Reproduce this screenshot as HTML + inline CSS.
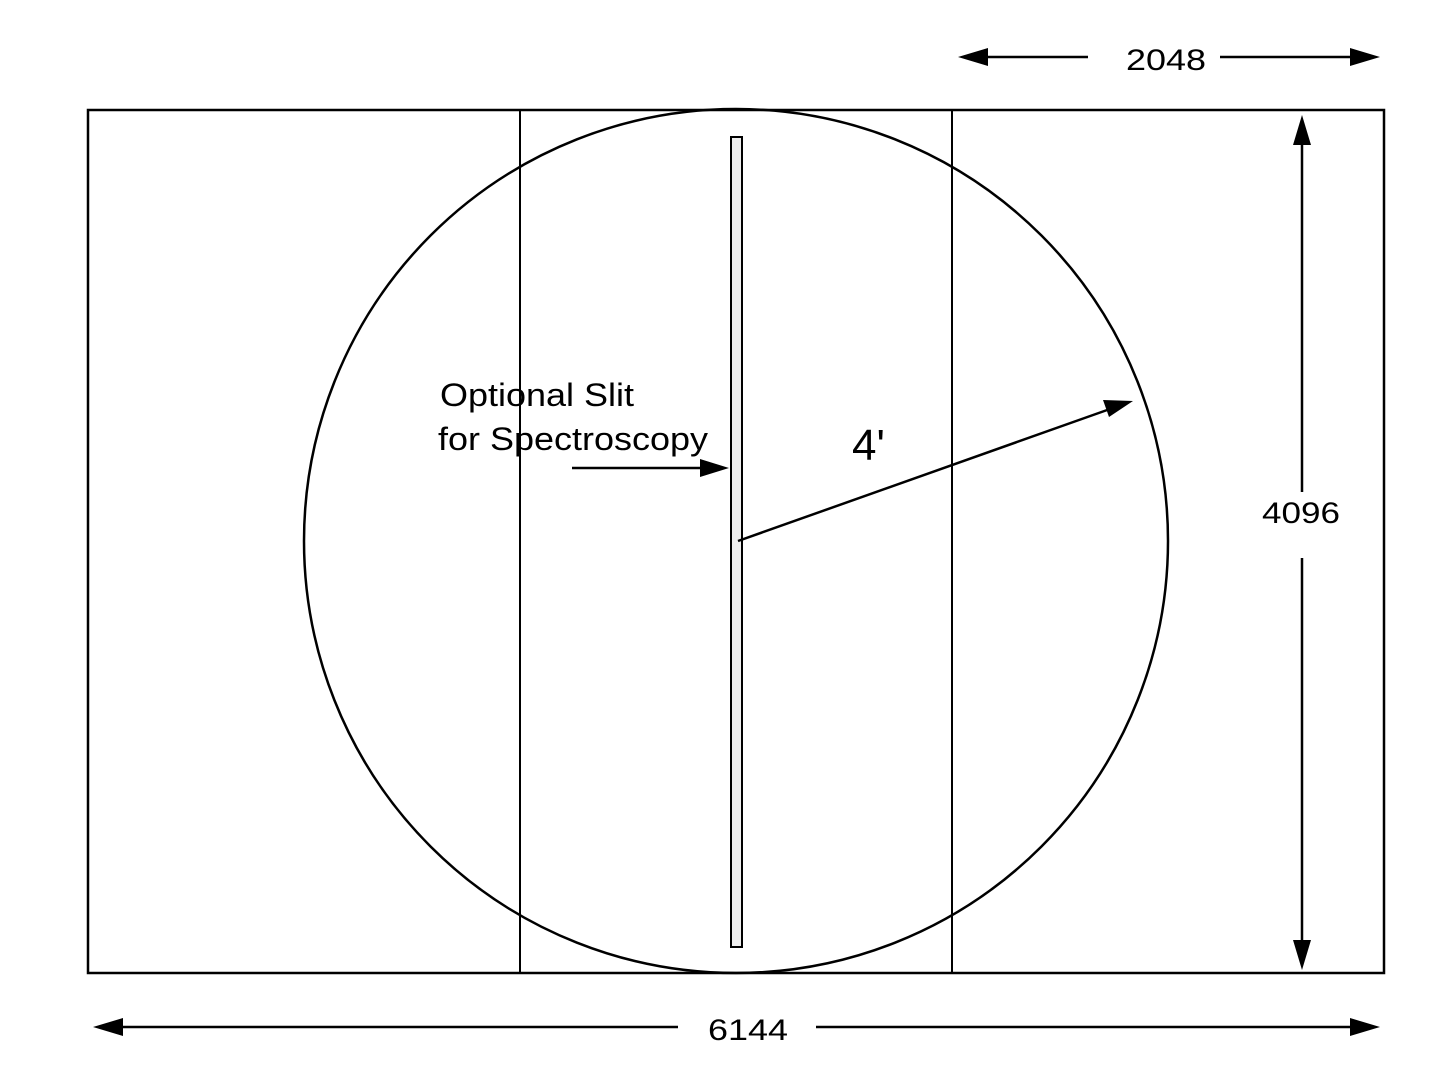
<!DOCTYPE html>
<html><head><style>body{margin:0;background:#fff}svg{display:block}</style></head><body>
<svg width="1453" height="1088" xmlns="http://www.w3.org/2000/svg" font-family="Liberation Sans, sans-serif">
<g fill="none" stroke="#000" stroke-width="2.5">
<rect x="88" y="110" width="1296" height="863"/>
<line x1="520" y1="110" x2="520" y2="973" stroke-width="2"/>
<line x1="952" y1="110" x2="952" y2="973" stroke-width="2"/>
<ellipse cx="736" cy="541" rx="432" ry="432"/>
<rect x="731" y="137" width="11" height="810" stroke-width="2" fill="#eee"/>
<line x1="738" y1="541" x2="1110" y2="409" stroke-width="2.5"/>
<line x1="572" y1="468" x2="705" y2="468" stroke-width="2.5"/>
<line x1="985" y1="57" x2="1088" y2="57"/>
<line x1="1220" y1="57" x2="1355" y2="57"/>
<line x1="120" y1="1027" x2="678" y2="1027"/>
<line x1="816" y1="1027" x2="1355" y2="1027"/>
<line x1="1302" y1="140" x2="1302" y2="492"/>
<line x1="1302" y1="558" x2="1302" y2="945"/>
</g>
<g fill="#000">
<polygon points="958,57 988,48 988,66"/>
<polygon points="1380,57 1350,48 1350,66"/>
<polygon points="93,1027 123,1018 123,1036"/>
<polygon points="1380,1027 1350,1018 1350,1036"/>
<polygon points="1302,115 1293,145 1311,145"/>
<polygon points="1302,970 1293,940 1311,940"/>
<polygon points="729,468 700,459 700,477"/>
<polygon points="1133,401 1103,400 1109,417"/>
</g>
<g fill="#000" font-size="30">
<text x="1126" y="70" textLength="80" lengthAdjust="spacingAndGlyphs">2048</text>
<text x="708" y="1040" textLength="80" lengthAdjust="spacingAndGlyphs">6144</text>
<text x="1262" y="523" textLength="78" lengthAdjust="spacingAndGlyphs">4096</text>
<text x="440" y="406" font-size="32" textLength="194" lengthAdjust="spacingAndGlyphs">Optional Slit</text>
<text x="438" y="450" font-size="32" textLength="270" lengthAdjust="spacingAndGlyphs">for Spectroscopy</text>
<text x="852" y="460" font-size="44">4'</text>
</g>
</svg>
</body></html>
